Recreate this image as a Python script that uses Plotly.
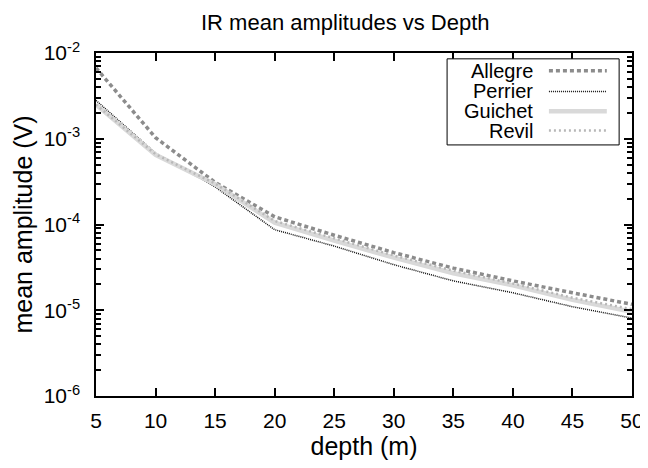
import plotly.graph_objects as go

depth = [5, 10, 15, 20, 25, 30, 35, 40, 45, 50]
allegre = [6.7e-3, 1.03e-3, 3.1e-4, 1.23e-4, 7.5e-5, 4.7e-5, 3.1e-5, 2.2e-5, 1.6e-5, 1.17e-5]
perrier = [2.8e-3, 6.8e-4, 2.75e-4, 8.7e-5, 5.6e-5, 3.4e-5, 2.2e-5, 1.6e-5, 1.1e-5, 8.1e-6]
guichet = [2.5e-3, 6.5e-4, 2.95e-4, 1.05e-4, 6.5e-5, 4.1e-5, 2.7e-5, 1.95e-5, 1.32e-5, 9.6e-6]
revil = [2.5e-3, 6.6e-4, 3.0e-4, 1.1e-4, 6.9e-5, 4.35e-5, 2.9e-5, 2.05e-5, 1.4e-5, 1.03e-5]
names = ["Allegre", "Perrier", "Guichet", "Revil"]
ytickvals = [1e-6, 1e-5, 1e-4, 1e-3, 1e-2]
yticktext = ["10<sup>-6</sup>", "10<sup>-5</sup>", "10<sup>-4</sup>", "10<sup>-3</sup>", "10<sup>-2</sup>"]
minor_vals = [m * 10.0 ** e for e in range(-6, -2) for m in range(2, 10)]

styles = [
    dict(color="#8c8c8c", width=3.5, dash="4px,3px"),
    dict(color="#111111", width=1.5, dash="1px,1px"),
    dict(color="#d9d9d9", width=4.5, dash="solid"),
    dict(color="#b8b8b8", width=2.5, dash="2px,3px"),
]
series = [allegre, perrier, guichet, revil]

fig = go.Figure()
# invisible trace that carries the minor-tick overlay axis
fig.add_trace(go.Scatter(x=depth, y=guichet, yaxis="y2", mode="lines", opacity=0,
                         line=dict(width=0), showlegend=False, hoverinfo="skip"))
for nm, ys, st in zip(names, series, styles):
    fig.add_trace(go.Scatter(x=depth, y=ys, mode="lines", name=nm, line=st,
                             showlegend=False))

# Legend drawn by hand: text right-aligned, sample line on the right
box = dict(x0=0.655, x1=0.976, y0=0.732, y1=0.983)
fig.add_shape(type="rect", xref="paper", yref="paper", line=dict(color="black", width=1),
              fillcolor="white", layer="above", **box)
rows = [0.948, 0.888, 0.830, 0.774]
for nm, st, yy in zip(names, styles, rows):
    fig.add_annotation(x=0.819, y=yy, xref="paper", yref="paper", text=nm,
                       showarrow=False, xanchor="right", yanchor="middle",
                       font=dict(size=20, color="black"))
    fig.add_shape(type="line", xref="paper", yref="paper", x0=0.845, x1=0.953,
                  y0=yy, y1=yy, line=st, layer="above")

# page body has an 8px default margin, so the figure is sized to fill the rest
fig.update_layout(
    width=640, height=460,
    margin=dict(l=88, r=16, t=45, b=72, autoexpand=False),
    paper_bgcolor="white", plot_bgcolor="white",
    font=dict(family="Liberation Sans, Arial, sans-serif", color="black", size=21),
    title=dict(text="IR mean amplitudes vs Depth", x=0.527, xanchor="center",
               y=0.97, yanchor="middle", font=dict(size=22)),
    xaxis=dict(
        range=[5, 50], dtick=5, tick0=5, ticks="inside", ticklen=8, tickwidth=1.5,
        tickcolor="black", automargin=False, ticklabelstandoff=5,
        showline=True, linecolor="black", linewidth=1.5, mirror="ticks",
        showgrid=False, zeroline=False, tickfont=dict(size=21),
        title=dict(text="depth (m)", font=dict(size=25), standoff=6),
    ),
    yaxis=dict(
        type="log", range=[-6, -2], tickvals=ytickvals, ticktext=yticktext,
        ticks="inside", ticklen=8, tickwidth=1.5, tickcolor="black",
        ticklabelstandoff=10, automargin=False,
        showline=True, linecolor="black", linewidth=1.5, mirror="ticks",
        showgrid=False, zeroline=False, tickfont=dict(size=21),
        title=dict(text="mean amplitude (V)", font=dict(size=25), standoff=4),
    ),
    yaxis2=dict(type="log", range=[-6, -2], overlaying="y", side="left",
                tickmode="array", tickvals=minor_vals, showticklabels=False,
                ticks="inside", ticklen=5, tickwidth=1.5, tickcolor="black",
                showline=True, linecolor="black", linewidth=1.5, mirror="ticks",
                showgrid=False, zeroline=False, automargin=False),
)

fig.write_html("out.html")
